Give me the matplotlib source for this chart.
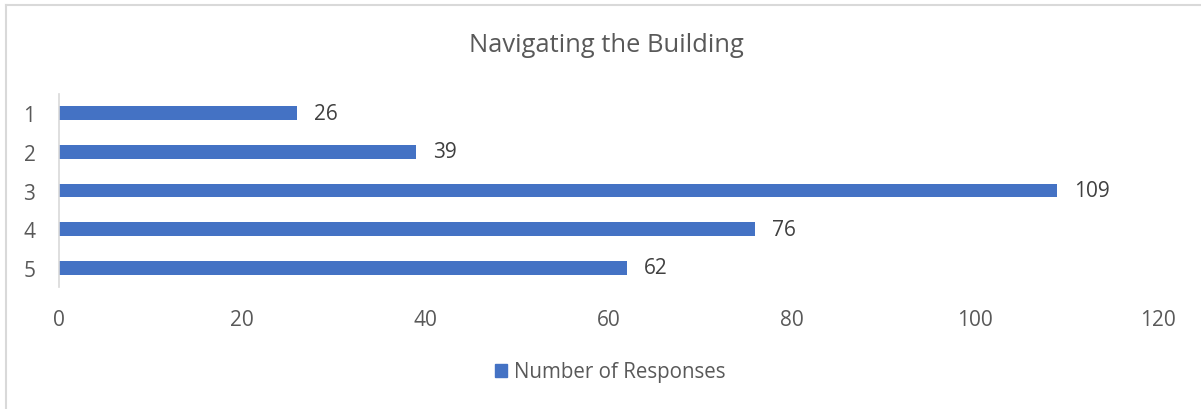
import matplotlib
matplotlib.use("Agg")
from matplotlib import pyplot as plt
import matplotlib.patches as mpatches
from matplotlib.lines import Line2D

# data
categories = ["1", "2", "3", "4", "5"]
responses = [26, 39, 109, 76, 62]
x_ticks = [0, 20, 40, 60, 80, 100, 120]

bar_color = "#4472C4"
text_color = "#595959"
plt.rcParams["font.family"] = ["Open Sans", "DejaVu Sans"]

fig = plt.figure(figsize=(12.01, 4.10), dpi=100)
ax = fig.add_axes([59/1201, 1 - 288/410, (1158 - 59)/1201, (288 - 95)/410])

ypos = list(range(len(categories)))
ax.barh(ypos, responses, height=0.36, color=bar_color, zorder=2)
# value labels
for y, v in zip(ypos, responses):
    ax.annotate(str(v), (v, y), xytext=(17, 0), textcoords="offset pixels",
                va="center", ha="left", fontsize=15, color="#404040")

ax.set_xlim(0, 120)
ax.set_ylim(len(categories) - 0.5, -0.5)
ax.set_xticks(x_ticks)
ax.set_yticks(ypos)
ax.set_yticklabels(categories)
ax.tick_params(axis="both", length=0, labelsize=15, labelcolor=text_color)
ax.tick_params(axis="x", pad=16)
ax.tick_params(axis="y", pad=17)
for s in ["top", "right", "bottom"]:
    ax.spines[s].set_visible(False)
ax.spines["left"].set_color("#D9D9D9")
ax.spines["left"].set_linewidth(1.2)

fig.text(606/1201, 1 - 45/410, "Navigating the Building", ha="center", va="center",
         fontsize=18.4, color=text_color)

# legend
handle = mpatches.Patch(color=bar_color, label="Number of Responses")
fig.legend(handles=[handle], loc="center", bbox_to_anchor=(610/1201, 1 - 373/410),
           frameon=False, fontsize=14.8, labelcolor=text_color, handlelength=0.6,
           handleheight=0.6, handletextpad=0.3)

# chart frame (cropped: top and left edges only)
fig.add_artist(Line2D([5.5/1201, 5.5/1201], [0, 1 - 5.5/410], color="#D9D9D9", lw=1.5))
fig.add_artist(Line2D([5.5/1201, 1], [1 - 5.5/410, 1 - 5.5/410], color="#D9D9D9", lw=1.5))

fig.savefig("out.png", dpi=100)
